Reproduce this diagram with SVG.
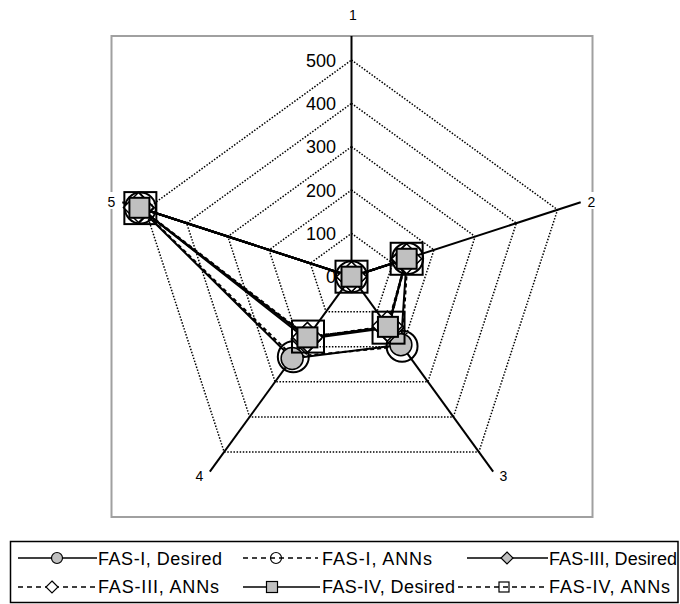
<svg xmlns="http://www.w3.org/2000/svg" width="680" height="604" viewBox="0 0 680 604">
<style>
.frame{fill:#fff;stroke:#a0a0a0;stroke-width:2}
.grid{fill:none;stroke:#000;stroke-width:1.5;stroke-dasharray:1.5 1.6}
.axis{stroke:#000;stroke-width:2;fill:none}
.solid{fill:none;stroke:#000;stroke-width:2;stroke-linejoin:round}
.dash{fill:none;stroke:#000;stroke-width:2;stroke-dasharray:4 3;stroke-linejoin:round}
.lsolid{fill:none;stroke:#000;stroke-width:1.5}
.ldash{fill:none;stroke:#000;stroke-width:1.5;stroke-dasharray:5 4}
.tick{font-family:"Liberation Sans",Arial,sans-serif;font-size:18px;fill:#000;text-anchor:end}
.alab{font-family:"Liberation Sans",Arial,sans-serif;font-size:14px;fill:#000;text-anchor:middle}
.leg{font-family:"Liberation Sans",Arial,sans-serif;font-size:18px;fill:#000}
.legbox{fill:#fff;stroke:#000;stroke-width:1.5}
</style>
<defs>
<circle id="cG" r="11" fill="#c0c0c0" stroke="#000" stroke-width="1.5"/>
<circle id="cO" r="15.5" fill="none" stroke="#000" stroke-width="2"/>
<polygon id="dG" points="0,-15 15,0 0,15 -15,0" fill="#c0c0c0" stroke="#000" stroke-width="1.5"/>
<polygon id="dO" points="0,-15 15,0 0,15 -15,0" fill="#fff" stroke="#000" stroke-width="1.5"/>
<rect id="sG" x="-10" y="-10" width="20" height="20" fill="#c0c0c0" stroke="#000" stroke-width="2"/>
<rect id="sO" x="-16" y="-16" width="32" height="32" fill="none" stroke="#000" stroke-width="2"/>
<circle id="lcG" r="5.5" fill="#c0c0c0" stroke="#000" stroke-width="1.2"/>
<circle id="lcO" r="5.5" fill="none" stroke="#000" stroke-width="1.2"/>
<polygon id="ldG" points="0,-6 6,0 0,6 -6,0" fill="#c0c0c0" stroke="#000" stroke-width="1.2"/>
<polygon id="ldO" points="0,-6 6,0 0,6 -6,0" fill="#fff" stroke="#000" stroke-width="1.2"/>
<rect id="lsG" x="-5.5" y="-5.5" width="11" height="11" fill="#c0c0c0" stroke="#000" stroke-width="1.2"/>
<rect id="lsO" x="-5" y="-5" width="10" height="10" fill="none" stroke="#000" stroke-width="1.2"/>
</defs>
<rect width="680" height="604" fill="#fff"/>
<rect class="frame" x="111.5" y="36" width="481" height="481"/>
<g id="grid">
<polygon class="grid" points="351.5,233.37 392.71,263.31 376.97,311.76 326.03,311.76 310.29,263.31"/>
<polygon class="grid" points="351.5,190.03 433.93,249.92 402.44,346.82 300.56,346.82 269.07,249.92"/>
<polygon class="grid" points="351.5,146.7 475.14,236.53 427.91,381.87 275.09,381.87 227.86,236.53"/>
<polygon class="grid" points="351.5,103.37 516.35,223.14 453.38,416.93 249.62,416.93 186.65,223.14"/>
<polygon class="grid" points="351.5,60.03 557.56,209.75 478.85,451.99 224.15,451.99 145.44,209.75"/>
</g>
<g id="axes">
<line class="axis" x1="351.5" y1="276.7" x2="351.5" y2="36"/>
<line class="axis" x1="351.5" y1="276.7" x2="580.71" y2="202.23"/>
<line class="axis" x1="351.5" y1="276.7" x2="493.16" y2="471.67"/>
<line class="axis" x1="351.5" y1="276.7" x2="209.84" y2="471.67"/>
<line class="axis" x1="351.5" y1="276.7" x2="122.29" y2="202.23"/>
</g>
<g id="ticks">
<text class="tick" x="336" y="283.2">0</text>
<text class="tick" x="336" y="239.9">100</text>
<text class="tick" x="336" y="196.5">200</text>
<text class="tick" x="336" y="153.2">300</text>
<text class="tick" x="336" y="109.9">400</text>
<text class="tick" x="336" y="66.5">500</text>
</g>
<g id="axis-labels">
<text class="alab" x="353" y="20">1</text>
<rect x="586" y="192" width="11" height="17" fill="#fff"/>
<text class="alab" x="591.5" y="206.5">2</text>
<text class="alab" x="503.5" y="481">3</text>
<text class="alab" x="199.5" y="481">4</text>
<rect x="106" y="192" width="11" height="17" fill="#fff"/>
<text class="alab" x="111.5" y="206.5">5</text>
</g>
<g id="connectors">
<polygon class="solid" points="351.5,276.7 406.66,258.78 400.87,344.66 292.13,358.41 139.41,207.79"/>
<polygon class="dash" points="351.5,276.7 407.61,258.47 402.05,346.28 293.31,356.79 140.36,208.10"/>
<polygon class="solid" points="351.5,276.7 405.71,259.09 388.53,327.67 306.24,339.00 139.41,207.79"/>
<polygon class="dash" points="351.5,276.7 406.66,258.78 387.36,326.05 307.42,337.38 138.46,207.48"/>
<polygon class="solid" points="351.5,276.7 406.66,258.78 387.94,326.86 307.42,337.38 139.41,207.79"/>
<polygon class="dash" points="351.5,276.7 406.66,258.78 388.53,327.67 308.0,336.57 140.36,208.10"/>
</g>
<g id="s1-fas-i-desired">
<use href="#cG" x="351.5" y="276.7"/><use href="#cG" x="406.66" y="258.78"/><use href="#cG" x="400.87" y="344.66"/><use href="#cG" x="292.13" y="358.41"/><use href="#cG" x="139.41" y="207.79"/>
</g>
<g id="s2-fas-i-anns">
<use href="#cO" x="351.5" y="276.7"/><use href="#cO" x="407.61" y="258.47"/><use href="#cO" x="402.05" y="346.28"/><use href="#cO" x="293.31" y="356.79"/><use href="#cO" x="140.36" y="208.10"/>
</g>
<g id="s3-fas-iii-desired">
<use href="#dG" x="351.5" y="276.7"/><use href="#dG" x="405.71" y="259.09"/><use href="#dG" x="388.53" y="327.67"/><use href="#dG" x="306.24" y="339.00"/><use href="#dG" x="139.41" y="207.79"/>
</g>
<g id="s4-fas-iii-anns">
<use href="#dO" x="351.5" y="276.7"/><use href="#dO" x="406.66" y="258.78"/><use href="#dO" x="387.36" y="326.05"/><use href="#dO" x="307.42" y="337.38"/><use href="#dO" x="138.46" y="207.48"/>
</g>
<g id="s5-fas-iv-desired">
<use href="#sG" x="351.5" y="276.7"/><use href="#sG" x="406.66" y="258.78"/><use href="#sG" x="387.94" y="326.86"/><use href="#sG" x="307.42" y="337.38"/><use href="#sG" x="139.41" y="207.79"/>
</g>
<g id="s6-fas-iv-anns">
<use href="#sO" x="351.5" y="276.7"/><use href="#sO" x="406.66" y="258.78"/><use href="#sO" x="388.53" y="327.67"/><use href="#sO" x="308.0" y="336.57"/><use href="#sO" x="140.36" y="208.10"/>
</g>
<g id="legend">
<rect class="legbox" x="10.5" y="541.5" width="667.5" height="61"/>
<line class="lsolid" x1="18" y1="558" x2="97" y2="558"/>
<use href="#lcG" x="57" y="558"/>
<text class="leg" x="98" y="565" textLength="124" lengthAdjust="spacing">FAS-I, Desired</text>
<line class="ldash" x1="243" y1="558" x2="318" y2="558"/>
<use href="#lcO" x="276" y="558"/>
<text class="leg" x="322" y="565" textLength="110" lengthAdjust="spacing">FAS-I, ANNs</text>
<line class="lsolid" x1="467" y1="558" x2="548" y2="558"/>
<use href="#ldG" x="507" y="558"/>
<text class="leg" x="549" y="565" textLength="128" lengthAdjust="spacing">FAS-III, Desired</text>
<line class="ldash" x1="18" y1="587" x2="97" y2="587"/>
<use href="#ldO" x="52" y="587"/>
<text class="leg" x="98" y="593" textLength="121" lengthAdjust="spacing">FAS-III, ANNs</text>
<line class="lsolid" x1="243" y1="587" x2="320" y2="587"/>
<use href="#lsG" x="272" y="587"/>
<text class="leg" x="322" y="593" textLength="133" lengthAdjust="spacing">FAS-IV, Desired</text>
<line class="ldash" x1="458" y1="587" x2="548" y2="587"/>
<use href="#lsO" x="504" y="587"/>
<text class="leg" x="549" y="593" textLength="121" lengthAdjust="spacing">FAS-IV, ANNs</text>
</g>
</svg>
